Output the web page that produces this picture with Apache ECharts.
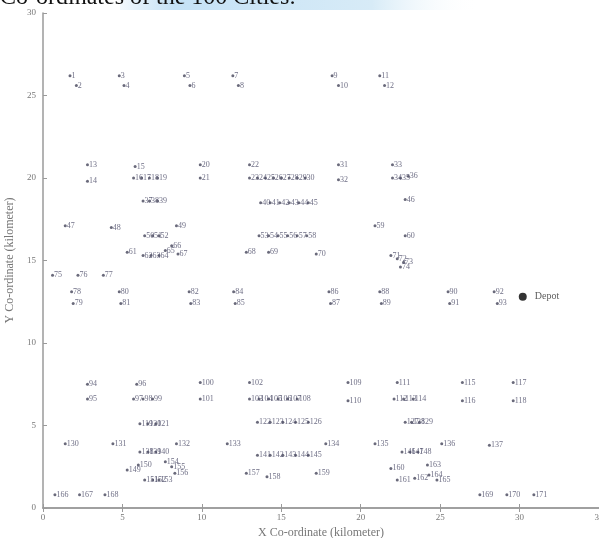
<!DOCTYPE html>
<html>
<head>
<meta charset="utf-8">
<script src="https://cdn.jsdelivr.net/npm/echarts@6/dist/echarts.min.js"></script>
<style>
  html, body { margin: 0; padding: 0; background: #fff; }
  #main { width: 599px; height: 538px; }
</style>
</head>
<body>
<div id="main"></div>
<script>
// city coordinates (km)
const cityX = [
  1.7, 2.1, 4.8, 5.1, 8.9, 9.25, 11.95, 12.3, 18.2, 18.6, 21.2, 21.5,
  2.8, 2.8, 5.8, 5.7, 6.2, 6.7, 7.2, 9.9, 9.9,
  13.0, 13.0, 13.5, 14.0, 14.5, 15.0, 15.5, 16.0, 16.5, 18.6, 18.6, 22.0, 22.0, 22.5, 23.0,
  6.3, 6.7, 7.2, 13.7, 14.3, 14.9, 15.5, 16.1, 16.7, 22.8,
  1.4, 4.3, 8.4, 6.4, 6.9, 7.3, 13.6, 14.2, 14.8, 15.4, 16.0, 16.6, 20.9, 22.8,
  5.3, 6.3, 6.8, 7.3, 7.7, 8.1, 8.5, 12.8, 14.2, 17.2, 21.9, 22.3, 22.7, 22.5,
  0.6, 2.2, 3.8,
  1.8, 1.9, 4.8, 4.9, 9.2, 9.3, 12.0, 12.1, 18.0, 18.1, 21.2, 21.3, 25.5, 25.6, 28.4, 28.6,
  2.8, 2.8, 5.9, 5.7, 6.3, 6.9, 9.9, 9.9,
  13.0, 13.0, 13.6, 14.2, 14.8, 15.4, 16.0, 19.2, 19.2, 22.3, 22.1, 22.7, 23.3, 26.4, 26.4, 29.6, 29.6,
  6.1, 6.6, 7.1, 13.5, 14.3, 15.1, 15.9, 16.7, 22.8, 23.2, 23.7,
  1.4, 4.4, 8.4, 11.6, 17.8, 20.9, 25.1, 28.1,
  6.1, 6.6, 7.1, 13.5, 14.3, 15.1, 15.9, 16.7, 22.6, 23.1, 23.6,
  5.3, 6.0, 6.4, 6.9, 7.3, 7.7, 8.1, 8.3, 12.8, 14.1, 17.2,
  21.9, 22.3, 23.4, 24.2, 24.3, 24.8,
  0.75, 2.3, 3.9, 27.5, 29.2, 30.9
];
const cityY = [
  26.2, 25.6, 26.2, 25.6, 26.2, 25.6, 26.2, 25.6, 26.2, 25.6, 26.2, 25.6,
  20.8, 19.8, 20.7, 20.0, 20.0, 20.0, 20.0, 20.8, 20.0,
  20.8, 20.0, 20.0, 20.0, 20.0, 20.0, 20.0, 20.0, 20.0, 20.8, 19.9, 20.8, 20.0, 20.0, 20.1,
  18.6, 18.6, 18.6, 18.5, 18.5, 18.5, 18.5, 18.5, 18.5, 18.7,
  17.1, 17.0, 17.1, 16.5, 16.5, 16.5, 16.5, 16.5, 16.5, 16.5, 16.5, 16.5, 17.1, 16.5,
  15.5, 15.3, 15.3, 15.3, 15.6, 15.9, 15.4, 15.5, 15.5, 15.4, 15.3, 15.1, 14.9, 14.6,
  14.1, 14.1, 14.1,
  13.1, 12.4, 13.1, 12.4, 13.1, 12.4, 13.1, 12.4, 13.1, 12.4, 13.1, 12.4, 13.1, 12.4, 13.1, 12.4,
  7.5, 6.6, 7.5, 6.6, 6.6, 6.6, 7.6, 6.6,
  7.6, 6.6, 6.6, 6.6, 6.6, 6.6, 6.6, 7.6, 6.5, 7.6, 6.6, 6.6, 6.6, 7.6, 6.5, 7.6, 6.5,
  5.1, 5.1, 5.1, 5.2, 5.2, 5.2, 5.2, 5.2, 5.2, 5.2, 5.2,
  3.9, 3.9, 3.9, 3.9, 3.9, 3.9, 3.9, 3.8,
  3.4, 3.4, 3.4, 3.2, 3.2, 3.2, 3.2, 3.2, 3.4, 3.4, 3.4,
  2.3, 2.6, 1.7, 1.7, 1.7, 2.8, 2.5, 2.1, 2.1, 1.9, 2.1,
  2.4, 1.7, 1.8, 2.6, 2.0, 1.7,
  0.8, 0.8, 0.8, 0.8, 0.8, 0.8
];
const depot = [30.2, 12.8];

const chart = echarts.init(document.getElementById('main'));

const points = cityX.map((x, i) => [x, cityY[i], String(i + 1)]);

const serif = 'Liberation Serif';
const axisGray = '#9a9a9a';

const option = {
  animation: false,
  backgroundColor: '#fff',
  graphic: [{
    // light blue highlight behind the caption
    type: 'rect',
    z: -1,
    shape: { x: 120, y: 0, width: 360, height: 10 },
    style: {
      fill: new echarts.graphic.LinearGradient(0, 0, 1, 0, [
        { offset: 0, color: 'rgba(190,222,245,0.2)' },
        { offset: 0.15, color: 'rgba(190,222,245,0.9)' },
        { offset: 0.7, color: 'rgba(205,230,245,0.8)' },
        { offset: 1, color: 'rgba(255,255,255,0)' }
      ])
    }
  }, {
    // caption, top half cut off by the page edge
    type: 'text',
    z: 10,
    x: 0,
    y: 10,
    style: {
      text: 'Co-ordinates of the 100 Cities:',
      font: '24px "Liberation Serif"',
      fill: '#111',
      verticalAlign: 'bottom'
    }
  }],
  grid: { left: 43, right: 0, top: 13, bottom: 30, outerBoundsMode: 'none' },
  xAxis: [{
    type: 'value', min: 0, max: 35, interval: 5,
    name: 'X Co-ordinate (kilometer)',
    nameLocation: 'middle', nameGap: 18,
    nameTextStyle: { fontFamily: serif, fontSize: 12, color: '#777' },
    axisLine: { show: true, onZero: false, lineStyle: { color: axisGray, width: 1.5 } },
    axisTick: { inside: true, length: 4, lineStyle: { color: axisGray } },
    axisLabel: { fontFamily: serif, fontSize: 9, color: '#777', margin: 5 },
    splitLine: { show: false }
  }, {
    type: 'value', min: 0, max: 35, interval: 5, position: 'top',
    axisLine: { show: true, lineStyle: { color: axisGray, width: 1.5 } },
    axisTick: { inside: true, length: 4, lineStyle: { color: axisGray } },
    axisLabel: { show: false },
    splitLine: { show: false }
  }],
  yAxis: [{
    type: 'value', min: 0, max: 30, interval: 5,
    name: 'Y Co-ordinate (kilometer)',
    nameLocation: 'middle', nameGap: 26,
    nameTextStyle: { fontFamily: serif, fontSize: 12, color: '#777' },
    axisLine: { show: true, onZero: false, lineStyle: { color: axisGray, width: 1.5 } },
    axisTick: { inside: true, length: 4, lineStyle: { color: axisGray } },
    axisLabel: { fontFamily: serif, fontSize: 9, color: '#777', margin: 7 },
    splitLine: { show: false }
  }],
  series: [{
    type: 'scatter',
    data: points,
    symbolSize: 3,
    itemStyle: { color: '#45455a' },
    label: {
      show: true,
      position: 'right',
      distance: 0,
      offset: [0, -5],
      formatter: p => p.data[2],
      fontFamily: serif,
      fontSize: 8,
      color: '#4a4a66'
    },
    labelLayout: { hideOverlap: false }
  }, {
    type: 'scatter',
    data: [depot],
    symbolSize: 8,
    itemStyle: { color: '#000' },
    label: {
      show: true,
      position: 'right',
      distance: 8,
      formatter: 'Depot',
      fontFamily: serif,
      fontSize: 10,
      color: '#333'
    }
  }]
};

chart.setOption(option);
</script>
</body>
</html>
